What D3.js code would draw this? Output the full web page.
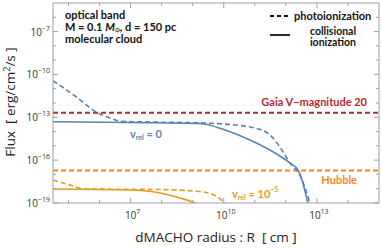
<!DOCTYPE html>
<html>
<head>
<meta charset="utf-8">
<script src="https://cdn.jsdelivr.net/npm/d3@7"></script>
<style>
  body { margin: 0; background: #fff; }
  svg { font-family: "Open Sans", sans-serif; }
  text { white-space: pre; }
</style>
</head>
<body>
<svg width="382" height="248"></svg>
<script>
// values, as log10 R [cm] and log10 flux
var blueSolidR  = [4.5, 6.98, 9.23, 10.04, 10.84, 11.65, 12.13, 12.39, 12.55, 12.71, 12.8];
var blueSolidF  = [-13.31, -13.37, -13.44, -13.89, -14.59, -15.5, -16.2, -16.69, -17.6, -19, -19.6];
var blueDashR   = [4.5, 5.21, 5.92, 6.34, 6.72, 7.62, 9.23, 10.2, 11.0, 11.49, 11.81, 12.13, 12.45, 12.62, 12.78, 12.85];
var blueDashF   = [-10.44, -11.51, -12.67, -13.05, -13.28, -13.33, -13.39, -13.51, -13.75, -14.24, -15.08, -16.2, -17.04, -17.95, -19, -19.5];
var orangeSolidR = [4.5, 6.98, 7.95, 8.59, 9.07, 9.25];
var orangeSolidF = [-18.02, -18.09, -18.3, -18.65, -19, -19.2];
var orangeDashR  = [4.5, 5.05, 5.53, 6.98, 7.95, 9.23, 9.72, 10.04, 10.15];
var orangeDashF  = [-17.39, -17.74, -18.02, -18.04, -18.06, -18.2, -18.48, -19, -19.2];
var gaiaFlux = 2.1e-13;
var hubbleFlux = 1.9e-17;
var xMajor = [7, 10, 13];
var xMinor = [5, 6, 8, 9, 11, 12, 14];
var yMajor = [-19, -16, -13, -10, -7];
var yMinor = [-18, -17, -15, -14, -12, -11, -9, -8, -6];

var margin = {left: 53, right: 3, top: 3, bottom: 45};
var width = 382, height = 248;

var svg = d3.select("svg");

var x = d3.scaleLog().domain([Math.pow(10, 4.5), 1e15]).range([margin.left, width - margin.right]);
var y = d3.scaleLog().domain([1e-19, 1e-5]).range([height - margin.bottom, margin.top]);

var x0 = margin.left, x1 = width - margin.right;
var y0 = height - margin.bottom, y1 = margin.top;

svg.append("clipPath").attr("id", "clip")
   .append("rect").attr("x", x0).attr("y", y1).attr("width", x1 - x0).attr("height", y0 - y1);

var plot = svg.append("g").attr("clip-path", "url(#clip)");

var toPts = function(rs, fs) {
  return rs.map(function(r, i) { return [Math.pow(10, r), Math.pow(10, fs[i])]; });
};

var line = d3.line()
             .x(function(d) { return x(d[0]); })
             .y(function(d) { return y(d[1]); })
             .curve(d3.curveMonotoneX);

// reference lines
plot.append("line").attr("x1", x0).attr("x2", x1)
    .attr("y1", y(gaiaFlux)).attr("y2", y(gaiaFlux))
    .attr("stroke", "#b22a2e").attr("stroke-width", 2).attr("stroke-dasharray", "5,3");
plot.append("line").attr("x1", x0).attr("x2", x1)
    .attr("y1", y(hubbleFlux)).attr("y2", y(hubbleFlux))
    .attr("stroke", "#f5871f").attr("stroke-width", 2).attr("stroke-dasharray", "5,3");

var series = [
  {r: orangeSolidR, f: orangeSolidF, color: "#e19c24", dash: null},
  {r: orangeDashR, f: orangeDashF, color: "#e19c24", dash: "5,3"},
  {r: blueSolidR, f: blueSolidF, color: "#5e81b5", dash: null},
  {r: blueDashR, f: blueDashF, color: "#5e81b5", dash: "5,3"}
];

series.forEach(function(s) {
  plot.append("path")
      .attr("d", line(toPts(s.r, s.f)))
      .attr("fill", "none")
      .attr("stroke", s.color)
      .attr("stroke-width", 1.6)
      .attr("stroke-dasharray", s.dash);
});

// frame and ticks
var frame = svg.append("g").attr("stroke", "#a0a0a0").attr("stroke-width", 1);
frame.append("rect").attr("x", x0).attr("y", y1).attr("width", x1 - x0).attr("height", y0 - y1)
     .attr("fill", "none");

var tickX = function(list, len) {
  list.forEach(function(e) {
    var px = x(Math.pow(10, e));
    frame.append("line").attr("x1", px).attr("x2", px).attr("y1", y0).attr("y2", y0 - len);
    frame.append("line").attr("x1", px).attr("x2", px).attr("y1", y1).attr("y2", y1 + len);
  });
};
var tickY = function(list, len) {
  list.forEach(function(e) {
    var py = y(Math.pow(10, e));
    frame.append("line").attr("x1", x0).attr("x2", x0 + len).attr("y1", py).attr("y2", py);
    frame.append("line").attr("x1", x1).attr("x2", x1 - len).attr("y1", py).attr("y2", py);
  });
};
tickX(xMajor, 5); tickX(xMinor, 3);
tickY(yMajor, 5); tickY(yMinor, 3);

var powLabel = function(g, px, py, e, anchor) {
  var t = g.append("text").attr("x", px).attr("y", py)
           .attr("text-anchor", anchor).attr("font-size", 10).attr("fill", "#333");
  t.append("tspan").text("10");
  t.append("tspan").attr("dy", -5).attr("font-size", 7).text(e < 0 ? "\u2212" + (-e) : e);
};

var labels = svg.append("g");
xMajor.forEach(function(e) { powLabel(labels, x(Math.pow(10, e)) + 2, y0 + 16, e, "middle"); });
yMajor.forEach(function(e) { powLabel(labels, x0 - 3, y(Math.pow(10, e)) + 4, e, "end"); });

// axis titles
svg.append("text").attr("x", 216).attr("y", 242).attr("text-anchor", "middle")
   .attr("font-size", 13.5).attr("fill", "#222").text("dMACHO radius : R  [ cm ]");
var yt = svg.append("text").attr("transform", "translate(15,102) rotate(-90)")
   .attr("text-anchor", "middle").attr("font-size", 13.5).attr("fill", "#222");
yt.append("tspan").text("Flux  [ erg/cm");
yt.append("tspan").attr("dy", -5).attr("font-size", 9).text("2");
yt.append("tspan").attr("dy", 5).text("/s ]");

// annotations
var note = svg.append("g").attr("font-family", "Lato, sans-serif").attr("font-weight", "bold")
              .attr("font-size", 11).attr("fill", "#111");
note.append("text").attr("x", 65).attr("y", 19).text("optical band");
var m = note.append("text").attr("x", 65).attr("y", 31);
m.append("tspan").text("M = 0.1 ");
m.append("tspan").attr("font-style", "italic").text("M");
m.append("tspan").attr("font-size", 6).attr("dy", 1).text("\u2299");
m.append("tspan").attr("dy", -1).text(", d = 150 pc");
note.append("text").attr("x", 65).attr("y", 43).text("molecular cloud");

// legend
svg.append("line").attr("x1", 270).attr("x2", 290).attr("y1", 16).attr("y2", 16)
   .attr("stroke", "#111").attr("stroke-width", 1.8).attr("stroke-dasharray", "4,3");
svg.append("line").attr("x1", 270).attr("x2", 290).attr("y1", 35).attr("y2", 35)
   .attr("stroke", "#111").attr("stroke-width", 1.8);
note.append("text").attr("x", 294).attr("y", 20).text("photoionization");
note.append("text").attr("x", 333).attr("y", 34.5).attr("text-anchor", "middle")
    .attr("font-size", 10.5).text("collisional");
note.append("text").attr("x", 333).attr("y", 46).attr("text-anchor", "middle")
    .attr("font-size", 10.5).text("ionization");

// line labels
note.append("text").attr("x", 367).attr("y", 106).attr("text-anchor", "end")
    .attr("fill", "#b22a2e").text("Gaia V\u2212magnitude 20");
note.append("text").attr("x", 357).attr("y", 184).attr("text-anchor", "end")
    .attr("fill", "#f5871f").text("Hubble");

var v0 = note.append("text").attr("x", 130).attr("y", 138).attr("fill", "#5e81b5");
v0.append("tspan").text("v");
v0.append("tspan").attr("font-size", 7).attr("dy", 2).text("rel");
v0.append("tspan").attr("dy", -2).text(" = 0");
var v5 = note.append("text").attr("x", 232).attr("y", 198).attr("fill", "#e19c24");
v5.append("tspan").text("v");
v5.append("tspan").attr("font-size", 7).attr("dy", 2).text("rel");
v5.append("tspan").attr("dy", -2).text(" = 10");
v5.append("tspan").attr("font-size", 7).attr("dy", -6).text("\u22125");
</script>
</body>
</html>
